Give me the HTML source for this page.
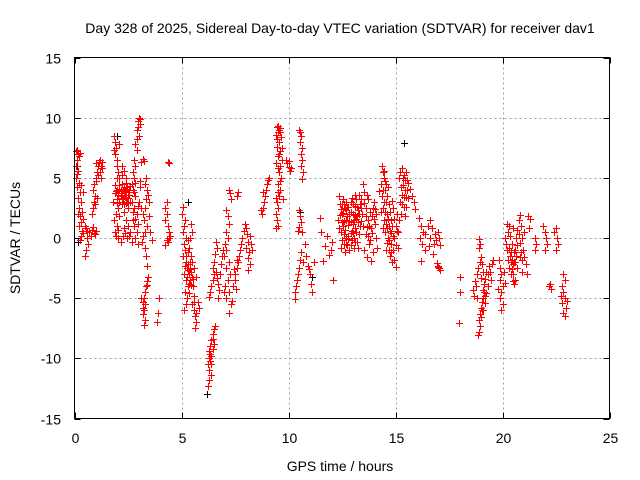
<!DOCTYPE html>
<html><head><meta charset="utf-8"><style>
html,body{margin:0;padding:0;background:#fff;}
svg{display:block;font-family:"Liberation Sans",sans-serif;}
</style></head><body>
<svg id="chart" width="640" height="480" viewBox="0 0 640 480" xmlns="http://www.w3.org/2000/svg">
<rect width="640" height="480" fill="#fff"/>
<text x="340" y="33" font-size="14" text-anchor="middle">Day 328 of 2025, Sidereal Day-to-day VTEC variation (SDTVAR) for receiver dav1</text>
<g id="grid"></g>
<g id="ticks"></g>
<g id="marks"></g>
<rect x="74.5" y="57.5" width="535" height="361" fill="none" stroke="#000" stroke-width="1"/>
<text x="340" y="471" font-size="14" text-anchor="middle">GPS time / hours</text>
<text transform="translate(20,238) rotate(-90)" font-size="14" text-anchor="middle">SDTVAR / TECUs</text>
</svg>
<script>
const xTicks=[0,5,10,15,20,25];
const yTicks=[15,10,5,0,-5,-10,-15];
const redPoints=[
[0.05,7.2],[0.1,7.3],[0.15,7],[0.2,6.8],[0.25,7.1],[0.1,6.5],[0.05,6],[0.15,5.6],[0.05,5],[0.2,4.6],[0.1,4.2],[0.25,3.8],[0.15,3.3],[0.3,3],[0.2,2.5],[0.35,2.2],[0.25,1.8],[0.3,1.3],[0.2,1],[0.35,0.6],[0.3,0.2],[0.25,-0.2],[0.4,1.6],[0.1,5.3],[0.3,4.4],[0.4,3.8],[0.15,2.0],[0.4,0.4],
[0.5,1],[0.55,0.8],[0.6,0.6],[0.7,0.5],[0.8,0.7],[0.9,0.4],[1.0,0.6],[0.6,0],[0.65,-0.5],[0.55,-1],[0.5,-1.5],[0.75,0.2],[0.85,0.9],[0.95,0.3],
[0.8,2],[0.85,2.5],[0.9,3],[0.95,3.5],[0.85,4],[0.9,4.5],[1.0,5],[1.05,5.5],[1.1,6],[1.15,6.3],[1.2,6.5],[1.25,6],[1.3,5.8],[1.0,4.7],[1.1,5.2],[1.2,5.5],[1.25,5.0],[0.95,2.8],[1.05,3.3],[1.0,6.2],[1.3,6.3],
[1.85,8.5],[1.9,8],[1.95,7.5],[1.9,7],[2.0,6.5],[1.85,7.3],[2.1,7.8],[2.0,6],[2.05,5.5],[2.1,5],[2.2,4.5],[2.0,4],[1.9,3.7],[2.3,4.2],[2.4,4],[2.5,3.8],[2.15,3.5],[2.25,3.2],[2.35,3.4],[2.45,3],[2.55,3.6],[2.6,4.3],[2.2,2.8],[2.05,2.5],[1.95,2],[2.1,1.8],[1.85,1.5],[2.0,1],[1.9,0.5],[2.05,0],[2.15,-0.3],[2.3,2.2],[2.4,1.5],[2.5,1],[2.6,0.5],[2.45,0],[2.3,0.8],[2.0,3.2],[1.8,3],[2.5,2.5],[2.2,6],[2.3,5.6],[2.4,5],
[1.95,3.9],[2.05,3.6],[2.1,4.1],[2.15,3.9],[2.2,3.7],[2.25,4.0],[2.3,3.6],[2.35,3.9],[2.4,3.4],[2.45,4.2],[2.5,3.3],[2.55,4.0],[2.0,2.9],[2.1,3.0],[2.2,3.3],[2.3,2.8],[2.4,2.9],[2.5,2.9],[1.9,4.4],[2.0,5.0],[2.1,4.4],[2.2,5.2],[2.4,4.6],[2.6,3.0],[1.95,0.2],[2.05,0.7],[2.25,0.2],[2.35,0.4],[2.55,0.2],
[3.0,10],[2.95,9.7],[3.05,9.5],[2.9,9],[3.0,8.5],[2.85,7.8],[2.9,7.3],[2.8,6.5],[2.85,6],[2.75,5.5],[2.8,5],[2.7,4.5],[2.75,4],[2.85,3.5],[2.7,3],[2.8,2.5],[2.9,2],[2.75,1.5],[2.8,1],[2.9,0.5],[2.85,0],[2.95,-0.5],[2.7,-0.3],[3.0,3],[3.1,2.5],[3.05,4.2],[2.95,1.2],
[2.95,9.2],[3.05,9.9],[2.9,8.2],[2.85,4.6],[2.8,3.8],[2.75,2.2],[2.95,2.7],[2.85,1.6],
[3.2,6.6],[3.25,6.4],[3.1,6.3],[3.35,5],[3.3,4.5],[3.4,4],[3.45,3.6],[3.35,3.2],[3.5,3],[3.3,2.5],[3.2,2],[3.25,1.5],[3.4,1],[3.3,0.5],[3.2,0.2],[3.15,-0.3],[3.3,-0.8],[3.35,-1.5],[3.4,-2.3],[3.6,-0.2],[3.55,0.5],[3.5,1.8],[3.05,4.7],
[3.45,-3.2],[3.4,-3.6],[3.35,-4],[3.3,-4.5],[3.25,-5],[3.2,-5.3],[3.1,-5],[3.3,-5.5],[3.25,-6],[3.2,-6.3],[3.3,-6.8],[3.25,-7.2],[3.4,-3.9],[3.2,-5.8],
[3.95,-5],[3.9,-6.2],[3.85,-7.0],
[4.35,6.3],[4.4,6.2],[4.3,3],[4.25,2.5],[4.3,2],[4.25,1.5],[4.35,1],[4.4,0.5],[4.45,0.2],[4.3,-0.2],[4.25,-0.6],[4.4,0],[4.35,-0.3],
[5.0,2],[5.05,2.6],[5.15,1.5],[5.1,1],[5.05,0.5],[5.2,0],[5.1,-0.5],[5.15,-1],[5.05,-1.5],[5.2,-2],[5.25,-2.5],[5.1,-3],[5.2,-3.5],[5.3,-4],[5.15,-4.5],[5.25,-5],[5.2,-5.5],[5.1,-6],[5.3,-2.2],[5.35,-3],[5.4,-3.5],[5.45,-2.8],[5.5,-3.2],[5.55,-4],[5.6,-4.8],[5.5,-5.5],[5.6,-6],[5.65,-6.5],[5.7,-7],[5.65,-7.5],[5.75,-5.3],[5.8,-5.8],[5.4,-2],[5.45,-1.5],[5.35,-0.8],[5.4,0],[5.5,0.5],[5.45,1.2],[5.3,-1.2],[5.6,-2.5],[5.7,-3.2],[5.5,-2],
[5.15,-2.3],[5.25,-3.2],[5.35,-3.8],[5.3,-2.7],[5.4,-2.6],[5.45,-3.9],[5.35,-4.6],[5.2,-1.5],[5.3,-0.2],[5.55,-3.4],[5.6,-5.3],[5.7,-6.2],
[6.55,-7.3],[6.5,-7.6],[6.45,-8],[6.4,-8.5],[6.35,-9],[6.3,-9.4],[6.4,-9.8],[6.35,-10.2],[6.25,-10.5],[6.3,-11],[6.4,-11.4],[6.3,-11.8],[6.25,-12.3],[6.45,-9.2],[6.5,-8.8],
[6.35,-9.6],[6.4,-10.5],[6.3,-10.0],[6.45,-8.4],
[6.6,-0.3],[6.65,-0.8],[6.55,-1.3],[6.5,-2],[6.45,-2.5],[6.5,-3],[6.45,-3.5],[6.4,-4],[6.35,-4.5],[6.3,-4.9],[6.6,-2.8],[6.65,-3.3],[6.7,-3.8],[6.75,-4.3],[6.7,-5],[6.8,-3],[6.85,-2.2],[6.9,-1.5],[6.95,-1],
[7.2,4],[7.25,3.7],[7.3,3.2],[7.1,2.3],[7.15,1.8],[7.2,1.2],[7.1,0.5],[7.15,0],[7.05,-0.5],[7.1,-1],[7.0,-1.5],[7.2,-2],[7.1,-2.5],[7.25,-3],[7.15,-3.5],[7.05,-4],[7.2,-4.5],[7.1,-5],[7.3,-5.5],[7.2,-6.2],[7.4,-4],[7.5,-3.5],[7.55,-4.2],[7.6,-2.5],[7.65,-2],[7.7,-1.5],[7.75,-1],[7.8,-0.5],[7.85,0],[7.6,-1.8],[7.5,-3],[7.45,-2.6],[7.9,0.6],[7.35,-5.2],[7.0,-4.5],[7.6,3.5],[7.65,3.8],
[7.95,1.2],[8.0,0.8],[8.05,0.3],[8.1,-0.3],[8.0,-0.8],[8.15,-1.2],[8.1,-1.7],[8.2,-2.2],[8.1,-2.7],[8.25,-0.5],[8.2,0.2],[8.3,-1],
[8.75,2],[8.8,2.5],[8.85,3],[8.9,3.5],[8.95,4],[9.0,4.5],[9.05,4.8],[9.1,5],[8.7,2.3],[8.8,3.8],
[9.45,9.2],[9.5,9.3],[9.55,9],[9.6,8.8],[9.4,8.6],[9.65,8.4],[9.55,8],[9.45,7.6],[9.6,7.2],[9.5,6.8],[9.7,6.5],[9.6,6],[9.4,6.2],[9.55,5.5],[9.65,5],[9.5,4.5],[9.6,4],[9.55,3.5],[9.45,3],[9.5,2.5],[9.4,2],[9.45,1.5],[9.5,1],[9.4,0.8],[9.7,7.5],[9.75,3.2],
[9.5,8.8],[9.6,9.1],[9.45,8.2],[9.55,7.0],[9.5,5.8],[9.6,4.7],[9.5,3.8],[9.4,3.3],
[9.9,6.5],[9.95,6.2],[10.0,5.9],[10.05,5.6],[10.1,5.8],[10.0,6.4],
[10.5,9],[10.55,8.8],[10.6,8.5],[10.55,8],[10.65,7.5],[10.6,7],[10.65,6.5],[10.6,6],[10.7,5.5],[10.65,4.9],
[10.5,2.3],[10.55,1.8],[10.6,1.3],[10.5,0.9],[10.65,0.5],[10.45,0.6],
[10.75,-0.5],[10.6,-1.2],[10.55,-1.8],[10.5,-2.5],[10.45,-3],[10.4,-3.5],[10.35,-4],[10.3,-4.5],[10.3,-5.1],[10.7,-2],[10.8,-1.5],[10.9,-2.3],[11.0,-3],[11.05,-3.8],[11.1,-4.5],[10.95,-2.6],[11.2,-2],
[11.45,1.7],[11.5,0.5],[11.7,-0.7],[11.9,-1.4],[12.1,-3.5],[11.6,-1.9],[12.05,-0.3],[11.8,0.2],[12.0,-1],
[12.35,3.5],[12.4,2.8],[12.3,1.5],[12.45,0.5],[12.5,2],[12.55,1],[12.6,-0.5],[12.65,2.5],[12.7,3],[12.75,1.8],[12.8,0.2],[12.85,-1],[12.9,2.2],[12.95,3.3],[13.0,1.2],[13.05,0],[13.1,2.7],[13.15,1.6],[13.2,-0.3],[13.25,2.3],[13.3,3.6],[13.35,1],[12.45,-0.8],[12.55,3.2],[12.6,1.4],[12.7,0],[12.75,-0.6],[12.85,1.4],[12.9,0.4],[13.0,2.8],[13.05,-0.8],[13.1,0.8],[13.2,1.8],[13.3,0.3],[12.65,-1.2],[12.8,2.6],[12.95,-0.2],[13.15,3.2],[12.35,0.8],[12.5,-0.2],[13.25,-0.8],[13.4,2.5],
[12.4,1.9],[12.45,2.4],[12.5,1.3],[12.55,2.1],[12.6,2.8],[12.65,0.7],[12.7,1.5],[12.75,2.6],[12.8,1.1],[12.85,2.0],[12.9,1.3],[12.95,0.6],[13.0,2.0],[13.05,1.5],[13.1,1.9],[13.15,0.5],[13.2,2.6],[13.25,1.3],[13.3,2.0],[13.35,2.8],[12.6,0.3],[12.7,-0.5],[12.8,-0.1],[12.9,-0.6],[13.0,0.4],[13.1,-0.3],[12.5,2.8],[12.7,2.3],[12.9,3.0],[13.1,3.6],
[13.5,4.5],[13.55,3.8],[13.4,3.2],[13.6,2.5],[13.45,2],[13.7,1.5],[13.5,1],[13.6,0.3],[13.75,-0.5],[13.55,-1],[13.65,-1.6],[13.8,-0.2],[13.85,0.8],[13.9,1.8],[13.95,2.5],[14.0,3],[14.05,1.2],[14.1,0],[14.15,-0.8],[13.7,3.2],[13.95,-1.2],[13.4,1.4],[14.1,2],[13.85,-1.9],
[13.6,1.8],[13.65,0.9],[13.7,0.2],[13.75,1.0],[13.8,2.2],[13.9,0.4],[14.0,1.6],[14.05,2.4],[13.55,2.9],[13.65,3.6],
[14.35,6],[14.4,5.5],[14.45,5],[14.3,4.5],[14.5,4],[14.35,3.5],[14.55,3],[14.4,2.5],[14.6,2],[14.45,1.5],[14.7,1],[14.5,0.5],[14.65,0],[14.8,-0.5],[14.55,-1],[14.75,-1.5],[14.85,-2],[14.9,-1],[14.95,0],[15.0,1],[15.05,2],[15.1,0.5],[14.95,-1.8],[15.0,-2.4],[14.6,3.5],[14.7,2.8],[14.8,1.5],[14.9,2.5],[14.25,3.9],[14.3,2.2],[14.4,0.8],[14.6,-0.4],[14.75,0.6],[15.1,-0.8],[14.85,3.1],[15.15,1.5],[14.5,4.7],[14.65,4.2],
[14.4,4.0],[14.45,3.0],[14.5,2.2],[14.55,1.2],[14.6,0.8],[14.65,1.6],[14.7,-0.2],[14.75,2.2],[14.8,0.4],[14.85,1.0],[14.9,0.2],[14.95,1.6],[15.0,-0.6],[15.05,0.6],[14.45,5.6],[14.55,4.5],[14.7,-1.0],[14.8,-1.2],
[15.15,5],[15.2,5.5],[15.3,5.8],[15.4,5.2],[15.45,4.8],[15.5,5.5],[15.35,4.4],[15.55,4],[15.6,4.6],[15.3,3.6],[15.5,3.4],[15.2,3],[15.4,2.6],[15.6,3.3],[15.75,3.5],[15.85,3],[15.9,2.4],[15.25,2],[15.45,1.8],[15.7,4.1],
[15.25,4.2],[15.35,5.0],[15.45,4.0],[15.55,4.8],[15.3,2.8],[15.4,3.4],[15.5,2.6],
[16.1,1.7],[16.2,1],[16.3,0.5],[16.15,0],[16.25,-0.5],[16.4,-1],[16.5,1],[16.6,1.5],[16.7,0.8],[16.6,0],[16.55,-0.7],[16.75,-1.3],[16.8,-0.5],[16.85,0.3],[17.0,0.5],[17.05,0],[17.1,-0.6],[16.4,0.3],[16.9,-0.2],[16.2,-1.9],
[16.95,-2.1],[17.0,-2.3],[17.05,-2.5],[17.1,-2.7],[17.0,-2.4],
[18.0,-3.2],[18.0,-4.5],[17.95,-7.1],
[18.9,-0.1],[18.95,-0.5],[18.9,-0.8],[18.7,-3.6],[18.75,-4],[18.6,-4.3],[18.65,-4.8],[18.8,-3],[18.85,-2.5],[18.95,-2],[19.0,-1.6],[19.05,-2.2],[19.1,-2.8],[19.0,-3.3],[19.15,-3.8],[19.1,-4.3],[19.2,-4.8],[19.05,-5.3],[19.0,-5.8],[18.95,-6.3],[18.9,-6.8],[18.95,-7.3],[18.9,-7.8],[18.85,-8.1],[19.3,-3],[19.35,-2.3],[19.4,-2.8],[19.45,-3.5],[19.3,-4],[19.25,-4.6],[19.5,-2.2],[19.55,-1.8],[19.2,-5.4],[19.1,-6],[18.8,-5],
[19.0,-6.6],[19.05,-6.0],[19.1,-5.0],[19.15,-4.5],[19.2,-3.4],[19.25,-2.8],
[19.85,-1.8],[19.9,-2.5],[19.95,-3],[19.9,-3.5],[20.0,-4],[19.95,-4.5],[19.9,-5],[20.0,-5.5],[19.95,-6],[20.05,-2.8],[20.1,-3.7],[19.8,-4.2],
[20.1,0],[20.15,-0.5],[20.2,-1],[20.25,0.5],[20.3,1],[20.35,-1.5],[20.4,-2],[20.45,-2.6],[20.5,-3],[20.55,-2],[20.6,-1],[20.65,0],[20.7,0.7],[20.75,1.5],[20.8,1.9],[20.85,1],[20.9,0],[20.95,-1],[21.0,-1.6],[21.1,-2.2],[21.15,-3],[20.3,-2.5],[20.45,-0.5],[20.6,-3.5],[20.7,-2.5],[20.8,-1.6],[21.0,0.5],[21.2,1.8],[21.3,1.6],[20.2,1.2],[20.5,0.8],[20.9,-2.8],[20.55,-3.8],[21.25,0.8],[20.35,0.2],
[20.25,-1.8],[20.3,-0.8],[20.4,-1.2],[20.45,-1.8],[20.5,-2.2],[20.55,-1.2],[20.6,-2.0],[20.65,-1.5],[20.7,-0.6],[20.75,0.3],[20.8,-0.4],[20.85,-1.2],[20.9,-1.8],[20.4,-3.0],[20.5,-3.6],
[21.5,0],[21.55,-0.5],[21.5,-1],
[21.9,1],[22.0,0.5],[22.05,0],[22.1,-0.5],[22.0,-1],[22.4,0.5],[22.5,0.8],[22.55,0],[22.6,-0.5],[22.5,-1],
[22.2,-3.8],[22.25,-4.2],[22.15,-4],
[22.85,-3],[22.9,-3.5],[22.8,-4],[22.85,-4.5],[22.9,-5],[22.8,-5.4],[22.95,-5.8],[22.85,-6.2],[22.9,-6.5],[22.75,-4.8],[23.0,-5.2]
];
const blackPoints=[[6.2,-13],[15.4,7.9],[2.0,8.5],[0.1,6],[5.3,3],[10.55,2.2],[11.1,-3.2],[0.15,-0.3]];

const X0=74.5,X1=609.5,Y0=418.5,Y1=57.5,XMIN=0,XMAX=25,YMIN=-15,YMAX=15;
function xs(t){return X0+(t-XMIN)/(XMAX-XMIN)*(X1-X0);}
function ys(v){return Y0-(v-YMIN)/(YMAX-YMIN)*(Y0-Y1);}
const NS='http://www.w3.org/2000/svg';
function mk(tag,attrs,parent){const e=document.createElementNS(NS,tag);for(const k in attrs)e.setAttribute(k,attrs[k]);parent.appendChild(e);return e;}
const grid=document.getElementById('grid'),ticks=document.getElementById('ticks'),marks=document.getElementById('marks');
xTicks.forEach(t=>{
  const x=Math.round(xs(t))+0.5;
  if(t>XMIN&&t<XMAX){const g=mk('line',{x1:x,x2:x,y1:Y1,y2:Y0,stroke:'#a0a0a0','stroke-dasharray':'2,3'},grid);
  
  }
  const tk=mk('path',{d:`M${x},${Y0}v-6M${x},${Y1}v6`,stroke:'#000'},ticks);
  
  
  const lb=mk('text',{x:x,y:443,'font-size':14,'text-anchor':'middle'},ticks);lb.textContent=t;
  
  
});
yTicks.forEach(v=>{
  const y=Math.round(ys(v))+0.5;
  if(v>YMIN&&v<YMAX){const g=mk('line',{x1:X0,x2:X1,y1:y,y2:y,stroke:'#a0a0a0','stroke-dasharray':'2,3'},grid);
  
  }
  const tk=mk('path',{d:`M${X0},${y}h6M${X1},${y}h-6`,stroke:'#000'},ticks);
  
  
  const lb=mk('text',{x:61,y:y+5,'font-size':14,'text-anchor':'end'},ticks);lb.textContent=v;
  
  
});
function plus(pts,color,name){
  let d='';
  pts.forEach(p=>{const x=Math.round(xs(p[0]))+0.5,y=Math.round(ys(p[1]))+0.5;d+=`M${x-3.5},${y}h7M${x},${y-3.5}v7`;});
  const el=mk('path',{d:d,stroke:color,'stroke-width':1,fill:'none'},marks);
  
  
}
plus(blackPoints,'#000','black-point-series');
plus(redPoints,'#ff0000','red-point-series');
</script>
</body></html>
